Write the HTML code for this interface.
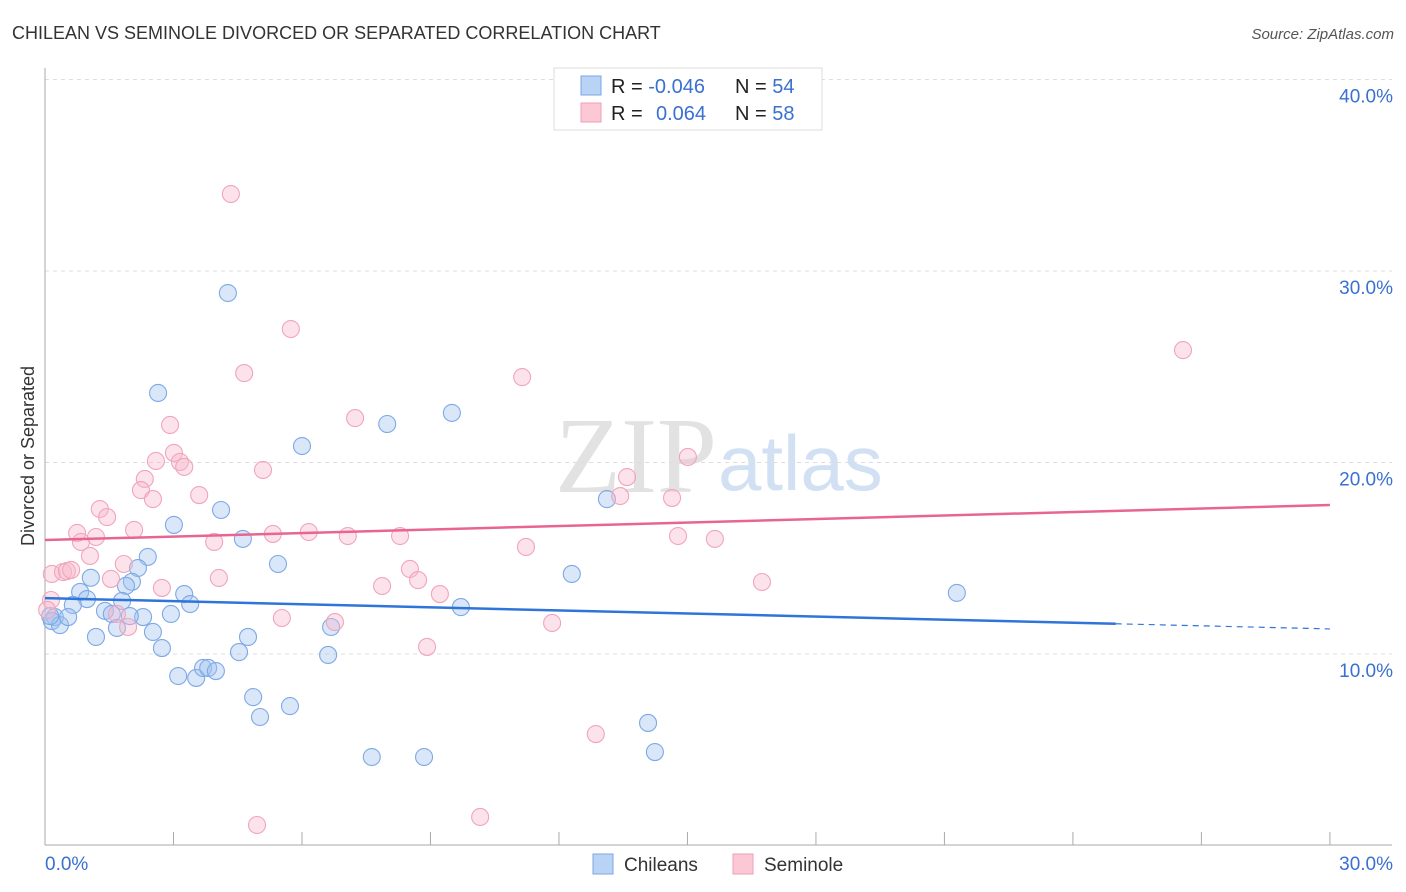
<!DOCTYPE html>
<html><head><meta charset="utf-8"><style>
body{margin:0;background:#fff;font-family:"Liberation Sans",sans-serif;}
svg{display:block}
</style></head><body>
<svg id="chart" width="1406" height="892">
<text x="12" y="39" font-size="18" fill="#333">CHILEAN VS SEMINOLE DIVORCED OR SEPARATED CORRELATION CHART</text>
<text x="1394" y="39" font-size="15" fill="#555" font-style="italic" text-anchor="end">Source: ZipAtlas.com</text>
<text x="0" y="0" font-size="18" fill="#333" text-anchor="middle" transform="translate(34,456) rotate(-90)">Divorced or Separated</text>
<g><text x="555" y="492" font-size="108" font-family="Liberation Serif,serif" fill="#e2e2e2">ZIP</text><text x="718" y="490" font-size="78" fill="#d2e0f3">atlas</text></g>
<g id="grid"></g><g id="axes"></g><g id="pts"></g><g id="trend"></g>
<g>
<rect x="554" y="68" width="268" height="62" fill="#fff" stroke="#ddd"/>
<rect x="581" y="76" width="20" height="19" fill="#b9d3f5" stroke="#7aa6e6"/>
<rect x="581" y="103" width="20" height="19" fill="#fcc8d6" stroke="#ee9fb6"/>
<text x="611" y="93" font-size="20" fill="#222">R = <tspan fill="#3a70d0">-0.046</tspan></text>
<text x="735" y="93" font-size="20" fill="#222">N = <tspan fill="#3a70d0">54</tspan></text>
<text x="611" y="120" font-size="20" fill="#222">R = <tspan fill="#3a70d0" x="656">0.064</tspan></text>
<text x="735" y="120" font-size="20" fill="#222">N = <tspan fill="#3a70d0">58</tspan></text>
</g>
<g>
<rect x="593" y="854" width="20" height="20" fill="#b9d3f5" stroke="#7aa6e6"/>
<text x="624" y="871" font-size="19" fill="#333">Chileans</text>
<rect x="733" y="854" width="20" height="20" fill="#fcc8d6" stroke="#ee9fb6"/>
<text x="764" y="871" font-size="19" fill="#333">Seminole</text>
</g>
</svg>
<script>
const blueX=[4.27,2.64,9.50,7.99,6.00,3.01,4.11,4.62,2.40,2.17,5.44,12.30,13.12,2.03,1.89,1.07,0.82,0.98,0.65,1.80,3.25,3.39,2.29,2.94,1.40,1.56,1.68,0.23,0.16,0.35,0.54,2.52,1.19,2.73,4.74,4.53,6.68,6.61,9.71,21.29,3.11,3.53,3.69,3.81,3.99,4.86,5.02,5.72,14.08,14.24,7.63,8.85,0.12,1.98];
const blueY=[28.85,23.63,22.59,22.01,20.86,16.74,17.52,16.01,15.07,14.49,14.70,14.18,18.09,13.77,13.56,13.98,13.24,12.87,12.56,12.77,13.13,12.61,11.93,12.09,12.25,12.09,11.36,11.93,11.72,11.51,11.93,11.15,10.89,10.31,10.89,10.10,11.41,9.95,12.45,13.19,8.85,8.75,9.27,9.27,9.11,7.75,6.71,7.28,6.40,4.88,4.62,4.62,11.98,11.98];
const pinkX=[4.34,5.74,4.65,26.57,11.14,7.24,2.92,3.01,2.59,3.15,3.25,5.09,2.33,2.24,2.52,3.60,13.59,13.43,14.64,15.01,1.28,1.45,0.75,2.08,1.19,0.84,3.95,5.32,6.16,7.07,8.29,11.23,14.78,15.64,1.05,1.84,0.16,0.42,0.51,0.61,1.54,4.06,7.87,8.52,8.71,9.22,2.73,16.74,0.14,0.05,1.68,1.94,5.53,6.77,11.84,8.92,12.86,4.95,10.16];
const pinkY=[34.02,26.97,24.67,25.87,24.46,22.32,21.96,20.50,20.08,20.03,19.77,19.61,19.14,18.56,18.09,18.30,19.24,18.25,18.15,20.29,17.57,17.15,16.32,16.48,16.11,15.85,15.85,16.27,16.37,16.16,16.16,15.59,16.16,16.01,15.12,14.70,14.18,14.28,14.33,14.39,13.92,13.97,13.55,14.44,13.86,13.13,13.45,13.76,12.82,12.30,12.09,11.41,11.88,11.67,11.62,10.37,5.82,1.07,1.49];
const yTicks=[10,20,30,40];
const xTickLabels=["0.0%","30.0%"];
const blueTrend=[12.92,11.31], pinkTrend=[15.95,17.78];
const NS="http://www.w3.org/2000/svg";
const sx=v=>45+v*42.83, sy=v=>845.5-v*19.15;
function mk(tag,at,parent){const e=document.createElementNS(NS,tag);for(const k in at)e.setAttribute(k,at[k]);document.getElementById(parent).appendChild(e);return e;}
yTicks.forEach(t=>{
 const l=mk('line',{x1:45,x2:1392,y1:sy(t),y2:sy(t),stroke:'#ddd','stroke-dasharray':'4,4'},'grid');
 
 
 const tx=mk('text',{x:1393,y:sy(t)+23,'font-size':19,fill:'#3a70d0','text-anchor':'end'},'grid');tx.textContent=t.toFixed(1)+'%';
 
 
});
mk('line',{x1:45,x2:45,y1:68,y2:845,stroke:'#aaa'},'axes');
mk('line',{x1:45,x2:1392,y1:845,y2:845,stroke:'#aaa'},'axes');
for(let i=0;i<=10;i++){const t=mk('line',{x1:sx(i*3),x2:sx(i*3),y1:832,y2:845,stroke:'#aaa'},'axes');
 
 }
const l0=mk('text',{x:45,y:870,'font-size':19,fill:'#3a70d0'},'axes');l0.textContent=xTickLabels[0];


const l1=mk('text',{x:1393,y:870,'font-size':19,fill:'#3a70d0','text-anchor':'end'},'axes');l1.textContent=xTickLabels[1];


blueX.forEach((x,i)=>{const c=mk('circle',{cx:sx(x),cy:sy(blueY[i]),r:8.5,fill:'rgba(160,196,240,0.4)',stroke:'#7ea9e6','stroke-width':1.1},'pts');
 
 });
pinkX.forEach((x,i)=>{const c=mk('circle',{cx:sx(x),cy:sy(pinkY[i]),r:8.5,fill:'rgba(248,184,204,0.4)',stroke:'#f0a5bb','stroke-width':1.1},'pts');
 
 });
const by=x=>blueTrend[0]+(blueTrend[1]-blueTrend[0])*x/30;
const b1=mk('line',{x1:sx(0),y1:sy(by(0)),x2:sx(25),y2:sy(by(25)),stroke:'#2f74d8','stroke-width':2.5},'trend');


const b2=mk('line',{x1:sx(25),y1:sy(by(25)),x2:sx(30),y2:sy(by(30)),stroke:'#2f74d8','stroke-width':1.2,'stroke-dasharray':'6,5'},'trend');


const p1=mk('line',{x1:sx(0),y1:sy(pinkTrend[0]),x2:sx(30),y2:sy(pinkTrend[1]),stroke:'#e86592','stroke-width':2.5},'trend');


</script>
</body></html>
